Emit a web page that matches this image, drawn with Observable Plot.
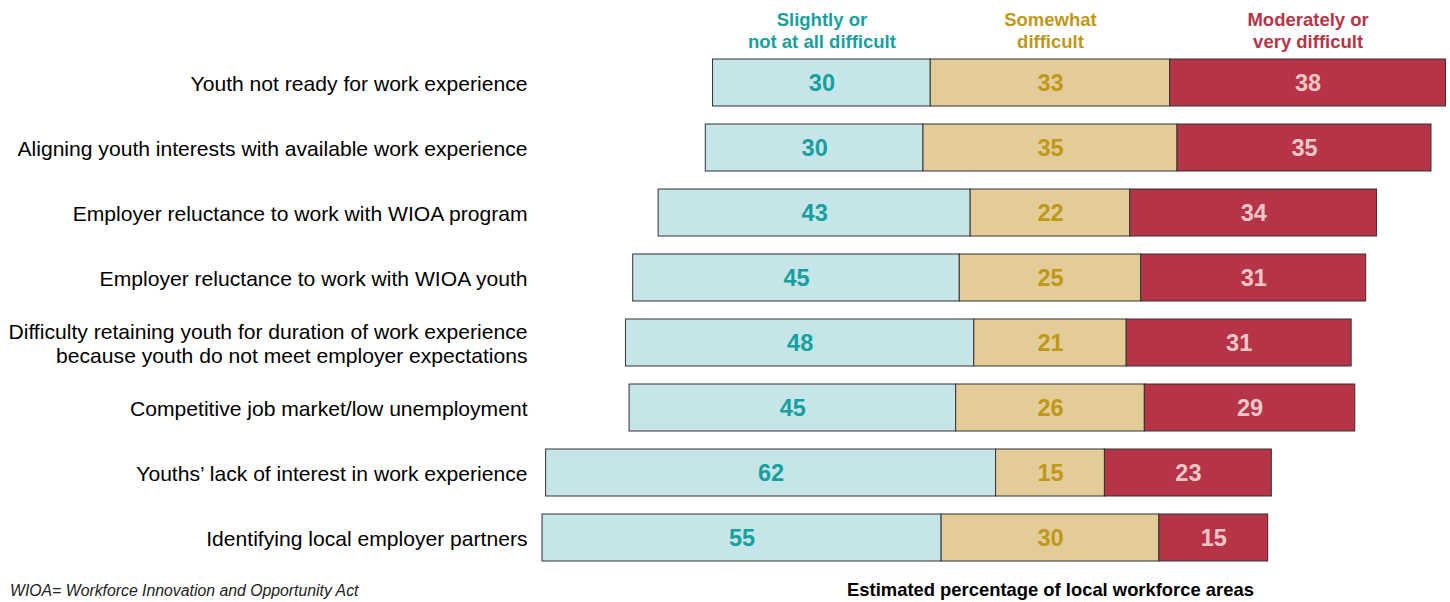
<!DOCTYPE html>
<html>
<head>
<meta charset="utf-8">
<script src="https://cdn.jsdelivr.net/npm/d3@7"></script>
<script src="https://cdn.jsdelivr.net/npm/@observablehq/plot@0.6"></script>
<style>
  html, body { margin: 0; padding: 0; background: #fff; }
  #wrap { position: relative; width: 1450px; height: 602px; font-family: "Liberation Sans", Arial, sans-serif; }
  #note { position: absolute; left: 10px; top: 582px; font-size: 15.8px; font-style: italic; color: #222; }
</style>
</head>
<body>
<div id="wrap"><div id="note">WIOA= Workforce Innovation and Opportunity Act</div></div>
<script>
const categories = [
  "Youth not ready for work experience",
  "Aligning youth interests with available work experience",
  "Employer reluctance to work with WIOA program",
  "Employer reluctance to work with WIOA youth",
  "Difficulty retaining youth for duration of work experience\nbecause youth do not meet employer expectations",
  "Competitive job market/low unemployment",
  "Youths\u2019 lack of interest in work experience",
  "Identifying local employer partners"
];
const slightly   = [30, 30, 43, 45, 48, 45, 62, 55];
const somewhat   = [33, 35, 22, 25, 21, 26, 15, 30];
const moderately = [38, 35, 34, 31, 31, 29, 23, 15];
const seriesKeys = ["slightly", "somewhat", "moderately"];
const seriesNames = ["Slightly or\nnot at all difficult", "Somewhat\ndifficult", "Moderately or\nvery difficult"];
const fills = {slightly: "#c5e5e8", somewhat: "#e3cc98", moderately: "#b53447"};
const textColors = {slightly: "#17a0a0", somewhat: "#c09818", moderately: "#f2c6c6"};
const headerColors = {slightly: "#17a0a0", somewhat: "#c09818", moderately: "#b53447"};
const axisLabel = "Estimated percentage of local workforce areas";

// Diverging layout centered on the middle of the "Somewhat difficult" segment
const rows = [];
categories.forEach((cat, i) => {
  const vals = [slightly[i], somewhat[i], moderately[i]];
  let x = -(vals[0] + vals[1] / 2);
  vals.forEach((v, j) => {
    rows.push({cat, key: seriesKeys[j], name: seriesNames[j], value: v, x1: x, x2: x + v, row: i});
    x += v;
  });
});
const headerRows = rows.filter(d => d.row === 0);

const chart = Plot.plot({
  width: 1450,
  height: 602,
  marginLeft: 542,
  marginRight: 4.5,
  marginTop: 40.3,
  marginBottom: 22.3,
  style: {fontFamily: "Liberation Sans, Arial, sans-serif", background: "#fff", overflow: "visible"},
  x: {domain: [-70, 54.5], axis: null},
  y: {domain: categories, padding: 0.28, axis: null},
  color: {type: "identity"},
  marks: [
    Plot.barX(rows, {x1: "x1", x2: "x2", y: "cat", fill: d => fills[d.key], stroke: "#333", strokeWidth: 1}),
    Plot.text(rows, {x: d => (d.x1 + d.x2) / 2, y: "cat", text: d => String(d.value), fill: d => textColors[d.key], fontSize: 23.5, fontWeight: "bold"}),
    Plot.text(categories, {y: d => d, text: d => d, frameAnchor: "left", textAnchor: "end", dx: -15, fontSize: 21.1, lineHeight: 1.14, fill: "#000"}),
    Plot.text(headerRows, {x: d => (d.x1 + d.x2) / 2, y: "cat", text: "name", dy: -53, lineAnchor: "middle", lineHeight: 1.17, fontSize: 18.5, fontWeight: "bold", fill: d => headerColors[d.key]}),
    Plot.text([axisLabel], {x: 0, text: d => d, frameAnchor: "bottom", dy: 16, fontSize: 18.4, fontWeight: "bold", fill: "#000"})
  ]
});
document.getElementById("wrap").prepend(chart);
</script>
</body>
</html>
